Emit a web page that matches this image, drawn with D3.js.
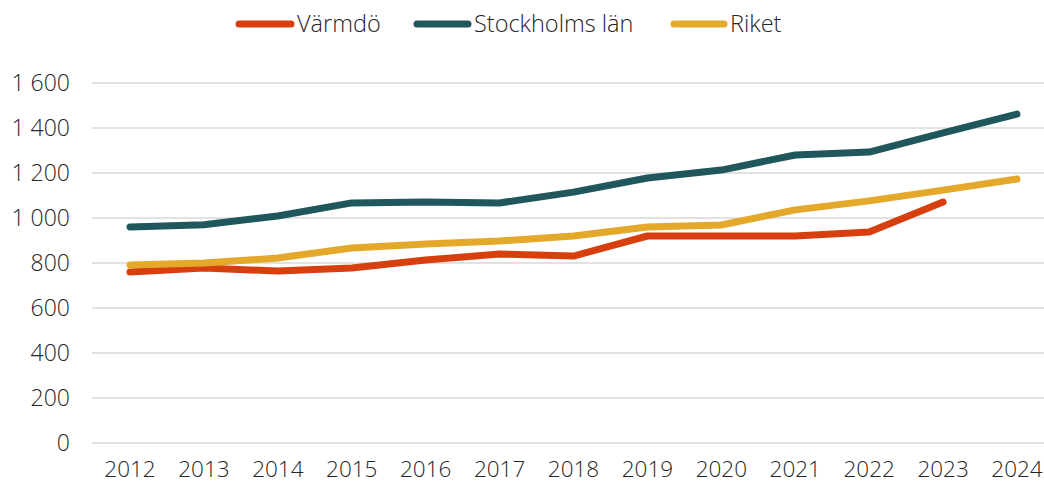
<!DOCTYPE html>
<html><head><meta charset="utf-8">
<script src="https://cdn.jsdelivr.net/npm/d3@7"></script>
<style>body{margin:0;background:#fff}svg{display:block}text{font-family:"Open Sans",sans-serif;font-weight:300;fill:#262626}</style>
</head><body><svg id="c" width="1044" height="484"></svg>
<script>
const years = ["2012","2013","2014","2015","2016","2017","2018","2019","2020","2021","2022","2023","2024"];
const varmdo = [760,778,764,778,813,840,831,920,920,920,938,1071,null];
const stockholm = [960,970,1009,1067,1071,1067,1115,1178,1213,1280,1293,1378,1462];
const riket = [791,800,822,867,884,898,920,960,969,1036,1076,1124,1173];
const yTicks = [0,200,400,600,800,1000,1200,1400,1600];
const seriesNames = ["Värmdö","Stockholms län","Riket"];
const colors = ["#d83f0e","#1f575d","#e4a82b"];

const svg = d3.select("#c");
const x = d3.scalePoint().domain(years).range([130,1017]);
const y = d3.scaleLinear().domain([0,1600]).range([443,83]);
const fmt = v => d3.format(",")(v).replace(/,/g," ");

svg.append("g").selectAll("line").data(yTicks).join("line")
  .attr("x1",92).attr("x2",1044).attr("y1",d=>y(d)).attr("y2",d=>y(d))
  .attr("stroke","#d9d9d9").attr("stroke-width",1.5);
svg.append("g").selectAll("text").data(yTicks).join("text")
  .attr("x",70).attr("y",d=>y(d)+8).attr("text-anchor","end")
  .attr("font-size",23).text(fmt);
svg.append("g").selectAll("text").data(years).join("text")
  .attr("x",d=>x(d)).attr("y",477).attr("text-anchor","middle")
  .attr("font-size",22.5).text(d=>d);

const data = [varmdo,stockholm,riket];
const line = d3.line().defined(d=>d.v!=null).x(d=>x(d.yr)).y(d=>y(d.v));
data.forEach((s,i)=>{
  svg.append("path").datum(s.map((v,j)=>({yr:years[j],v})))
    .attr("d",line).attr("fill","none").attr("stroke",colors[i])
    .attr("stroke-width",7).attr("stroke-linecap","round").attr("stroke-linejoin","round");
});

const legX = [[239,291],[417,468],[674,724]];
seriesNames.forEach((n,i)=>{
  svg.append("line").attr("x1",legX[i][0]).attr("x2",legX[i][1]).attr("y1",24).attr("y2",24)
    .attr("stroke",colors[i]).attr("stroke-width",7).attr("stroke-linecap","round");
  svg.append("text").attr("x",legX[i][1]+6).attr("y",32).attr("font-size",23.5).text(n);
});
</script></body></html>
